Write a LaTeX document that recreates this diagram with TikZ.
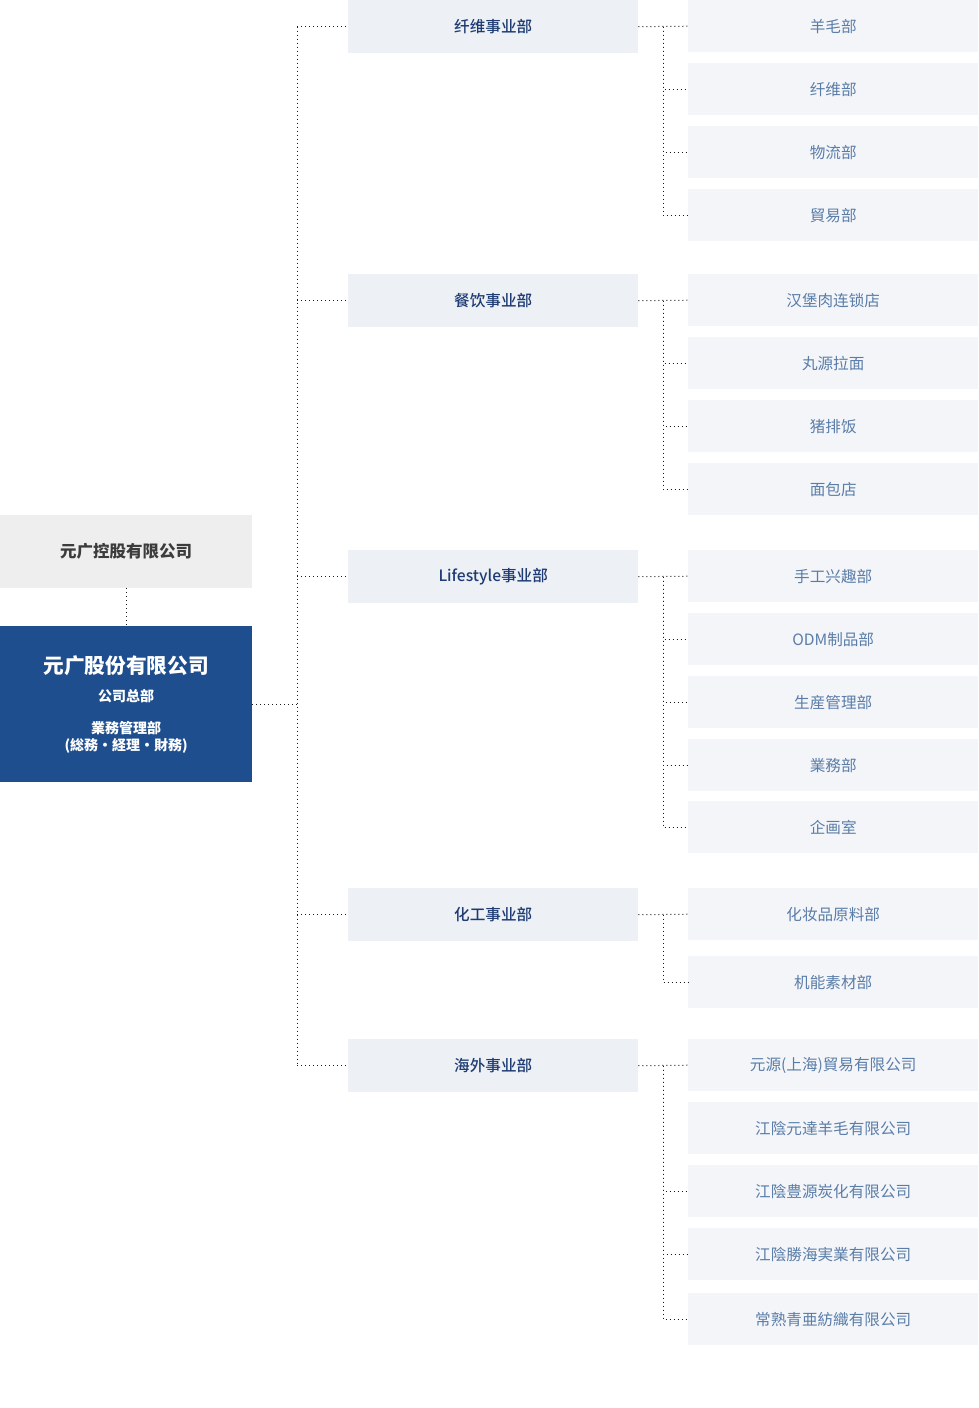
\documentclass[tikz,border=0pt]{standalone}
\usepackage{fontspec}
\setmainfont{Noto Sans CJK SC}
\newfontfamily\midfont{Noto Sans CJK SC Medium}
\usetikzlibrary{positioning}
\definecolor{holdfill}{HTML}{EEEEEE}
\definecolor{holdtext}{HTML}{3C3C3C}
\definecolor{hqfill}{HTML}{1F4E8E}
\definecolor{midfill}{HTML}{EDF0F5}
\definecolor{midtext}{HTML}{1E3C73}
\definecolor{subfill}{HTML}{F3F5F9}
\definecolor{subtext}{HTML}{5A7DA8}
\definecolor{dotline}{HTML}{1A1A1A}
\tikzset{
  holdbox/.style={fill=holdfill, text=holdtext, minimum width=252pt, minimum height=73pt,
    inner sep=0pt, anchor=north west, font=\fontsize{16.5}{19}\selectfont\bfseries},
  hqbox/.style={fill=hqfill, text=white, minimum width=252pt, minimum height=156pt,
    inner sep=0pt, anchor=north west, align=center, font=\fontsize{14}{17}\selectfont\bfseries},
  midbox/.style={fill=midfill, text=midtext, minimum width=290pt, minimum height=53pt,
    inner sep=0pt, anchor=north west, font=\fontsize{15.6}{18}\midfont},
  subbox/.style={fill=subfill, text=subtext, minimum width=290pt, minimum height=52pt,
    inner sep=0pt, anchor=north west, font=\fontsize{15.6}{18}\selectfont},
  link/.style={draw=dotline, line width=1pt, dash pattern=on 1pt off 3pt}
}
\begin{document}
\begin{tikzpicture}[x=1pt, y=-1pt]
    \useasboundingbox (0,0) rectangle (978,1408);
    % Branch positions of the dotted lines
    \coordinate (tr) at (297,0);
    \coordinate (rb) at (663,0);
    % Holding company and headquarters
    \node[holdbox] (hold) at (0,515) {元广控股有限公司};
    \node[hqbox] (hq) at (0,626) {{\fontsize{20.7}{17}\selectfont 元广股份有限公司}\\[11pt]
        公司总部\\[15pt]
        業務管理部\\
        (総務・経理・財務)};
    % Divisions
    \node[midbox] (fiber) at (348,0) {纤维事业部};
    \node[midbox] (food) at (348,274) {餐饮事业部};
    \node[midbox] (life) at (348,550) {Lifestyle事业部};
    \node[midbox] (chem) at (348,888) {化工事业部};
    \node[midbox] (over) at (348,1039) {海外事业部};
    % Fiber departments
    \node[subbox] (fiber1) at (688,0) {羊毛部};
    \node[subbox] (fiber2) at (688,63) {纤维部};
    \node[subbox] (fiber3) at (688,126) {物流部};
    \node[subbox] (fiber4) at (688,189) {貿易部};
    % Food departments
    \node[subbox] (food1) at (688,274) {汉堡肉连锁店};
    \node[subbox] (food2) at (688,337) {丸源拉面};
    \node[subbox] (food3) at (688,400) {猪排饭};
    \node[subbox] (food4) at (688,463) {面包店};
    % Lifestyle departments
    \node[subbox] (life1) at (688,550) {手工兴趣部};
    \node[subbox] (life2) at (688,613) {ODM制品部};
    \node[subbox] (life3) at (688,676) {生産管理部};
    \node[subbox] (life4) at (688,739) {業務部};
    \node[subbox] (life5) at (688,801) {企画室};
    % Chemical departments
    \node[subbox] (chem1) at (688,888) {化妆品原料部};
    \node[subbox] (chem2) at (688,956) {机能素材部};
    % Overseas companies
    \node[subbox] (over1) at (688,1039) {元源(上海)貿易有限公司};
    \node[subbox] (over2) at (688,1102) {江陰元達羊毛有限公司};
    \node[subbox] (over3) at (688,1165) {江陰豊源炭化有限公司};
    \node[subbox] (over4) at (688,1228) {江陰勝海実業有限公司};
    \node[subbox] (over5) at (688,1293) {常熟青亜紡織有限公司};
    % Left side lines
    \draw[link] (hold.south) -- (hq.north);
    \draw[link] (hq.east) -- (tr |- hq.east);
    \draw[link] (tr |- fiber.west) -- (tr |- over.west);
    \draw[link] (tr |- fiber.west) -- (fiber.west);
    \draw[link] (tr |- food.west) -- (food.west);
    \draw[link] (tr |- life.west) -- (life.west);
    \draw[link] (tr |- chem.west) -- (chem.west);
    \draw[link] (tr |- over.west) -- (over.west);
    % Right side lines
    \draw[link] (fiber.east) -- (fiber1.west);
    \draw[link] (rb |- fiber.east) |- (fiber2.west);
    \draw[link] (rb |- fiber.east) |- (fiber3.west);
    \draw[link] (rb |- fiber.east) |- (fiber4.west);
    \draw[link] (food.east) -- (food1.west);
    \draw[link] (rb |- food.east) |- (food2.west);
    \draw[link] (rb |- food.east) |- (food3.west);
    \draw[link] (rb |- food.east) |- (food4.west);
    \draw[link] (life.east) -- (life1.west);
    \draw[link] (rb |- life.east) |- (life2.west);
    \draw[link] (rb |- life.east) |- (life3.west);
    \draw[link] (rb |- life.east) |- (life4.west);
    \draw[link] (rb |- life.east) |- (life5.west);
    \draw[link] (chem.east) -- (chem1.west);
    \draw[link] (rb |- chem.east) |- (chem2.west);
    \draw[link] (over.east) -- (over1.west);
    \draw[link] (rb |- over.east) |- (over3.west);
    \draw[link] (rb |- over.east) |- (over4.west);
    \draw[link] (rb |- over.east) |- (over5.west);
\end{tikzpicture}
\end{document}
